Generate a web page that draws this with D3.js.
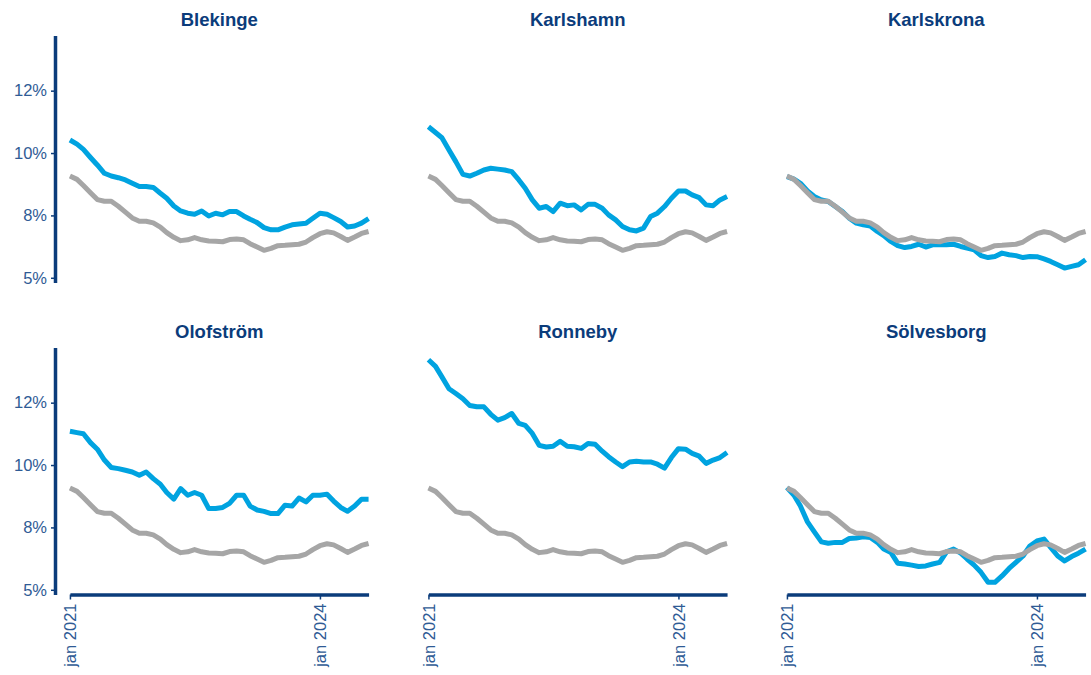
<!DOCTYPE html>
<html>
<head>
<meta charset="utf-8">
<script src="https://cdn.jsdelivr.net/npm/d3@7"></script>
<style>
  html, body { margin: 0; padding: 0; background: #ffffff; }
  svg { display: block; font-family: "Liberation Sans", Arial, sans-serif; }
</style>
</head>
<body>
<svg id="chart" width="1091" height="675"></svg>
<script>
// ---- DATA (monthly, jan 2021 .. aug 2024) ----
const startYear = 2021, nMonths = 44;
const regions = ["Blekinge", "Karlshamn", "Karlskrona", "Olofström", "Ronneby", "Sölvesborg"];
const riket = [9.17,9.05,8.83,8.57,8.32,8.26,8.26,8.08,7.87,7.66,7.54,7.54,7.48,7.33,7.13,6.96,6.84,6.87,6.95,6.87,6.83,6.82,6.80,6.88,6.90,6.87,6.73,6.61,6.49,6.56,6.66,6.67,6.69,6.71,6.79,6.95,7.09,7.16,7.12,6.99,6.85,6.97,7.10,7.17];
const blekinge = [10.47,10.32,10.13,9.84,9.57,9.27,9.17,9.11,9.03,8.91,8.79,8.79,8.76,8.55,8.37,8.09,7.91,7.83,7.79,7.91,7.73,7.83,7.77,7.89,7.89,7.73,7.61,7.49,7.31,7.23,7.23,7.33,7.41,7.44,7.47,7.65,7.83,7.79,7.67,7.53,7.33,7.37,7.47,7.63];
const karlshamn = [10.95,10.74,10.55,10.11,9.69,9.23,9.17,9.27,9.39,9.45,9.42,9.39,9.33,9.03,8.73,8.31,8.01,8.07,7.89,8.19,8.10,8.13,7.95,8.15,8.15,8.01,7.77,7.59,7.35,7.23,7.19,7.29,7.71,7.83,8.07,8.37,8.63,8.63,8.49,8.39,8.13,8.10,8.31,8.43];
const karlskrona = [9.15,9.06,8.91,8.63,8.43,8.31,8.25,8.07,7.89,7.65,7.47,7.41,7.37,7.17,7.02,6.81,6.66,6.59,6.63,6.71,6.61,6.69,6.69,6.69,6.71,6.63,6.57,6.51,6.30,6.23,6.27,6.39,6.33,6.30,6.23,6.27,6.26,6.18,6.09,5.97,5.85,5.91,5.97,6.15];
const olofstrom = [11.22,11.17,11.13,10.81,10.57,10.18,9.91,9.87,9.81,9.75,9.63,9.75,9.51,9.31,9.01,8.77,9.15,8.91,9.01,8.91,8.43,8.43,8.47,8.62,8.91,8.91,8.52,8.38,8.33,8.25,8.25,8.55,8.52,8.81,8.67,8.91,8.91,8.95,8.70,8.47,8.33,8.52,8.77,8.77];
const ronneby = [13.80,13.56,13.18,12.75,12.58,12.39,12.15,12.10,12.10,11.83,11.62,11.71,11.86,11.50,11.43,11.14,10.71,10.65,10.68,10.86,10.68,10.66,10.60,10.78,10.75,10.50,10.30,10.11,9.94,10.11,10.14,10.11,10.11,10.03,9.89,10.27,10.59,10.57,10.42,10.32,10.06,10.18,10.27,10.45];
const solvesborg = [9.19,8.91,8.52,7.95,7.59,7.23,7.18,7.21,7.21,7.35,7.37,7.41,7.39,7.21,6.97,6.85,6.46,6.43,6.39,6.34,6.36,6.43,6.49,6.87,6.97,6.82,6.61,6.39,6.13,5.77,5.77,6.00,6.27,6.49,6.72,7.08,7.26,7.33,7.03,6.72,6.54,6.70,6.82,6.97];
const regionSeries = [blekinge, karlshamn, karlskrona, olofstrom, ronneby, solvesborg];
const yTickValues = [5.5, 7.75, 10, 12.25];
const yTickLabels = ["5%", "8%", "10%", "12%"];
const xTickDates = [new Date(2021, 0, 1), new Date(2024, 0, 1)];
const xTickLabels = ["jan 2021", "jan 2024"];
const yDomain = [5.33, 14.24];

// ---- LAYOUT ----
const colLeft = [55, 413.5, 772];
const rowTop = [35.5, 347.5];
const pw = 328.5, ph = 247;
const navy = "#0b3c7b", tickCol = "#2f5b95", blue = "#00a3e0", grey = "#a6a6a6";

const dates = d3.range(nMonths).map(i => new Date(startYear, i, 1));
const pad = pw * 0.05 / 1.1;
const x = d3.scaleTime().domain([dates[0], dates[nMonths - 1]]).range([pad, pw - pad]);
const y = d3.scaleLinear().domain(yDomain).range([ph, 0]);
const line = d3.line().x((d, i) => x(dates[i])).y(d => y(d)).curve(d3.curveLinear);

const svg = d3.select("#chart");

regions.forEach((name, k) => {
  const r = Math.floor(k / 3), c = k % 3;
  const g = svg.append("g").attr("transform", `translate(${colLeft[c]},${rowTop[r]})`);

  g.append("text")
    .attr("x", pw / 2).attr("y", -10)
    .attr("text-anchor", "middle")
    .attr("font-size", "18.5px").attr("font-weight", "bold")
    .attr("fill", navy)
    .text(name);

  g.append("path").datum(regionSeries[k])
    .attr("d", line).attr("fill", "none")
    .attr("stroke", blue).attr("stroke-width", 5)
    .attr("stroke-linejoin", "round").attr("stroke-linecap", "butt");
  g.append("path").datum(riket)
    .attr("d", line).attr("fill", "none")
    .attr("stroke", grey).attr("stroke-width", 5)
    .attr("stroke-linejoin", "round").attr("stroke-linecap", "butt");

  if (c === 0) {
    const ya = g.append("g").call(
      d3.axisLeft(y).tickValues(yTickValues)
        .tickFormat((d, i) => yTickLabels[i]).tickSize(4).tickSizeOuter(0).tickPadding(4));
    ya.select(".domain").attr("stroke", navy).attr("stroke-width", 3.5);
    ya.selectAll(".tick line").attr("stroke", navy).attr("stroke-width", 1.5);
    ya.selectAll(".tick text").attr("fill", tickCol).attr("font-size", "16.5px")
      .attr("font-family", "Liberation Sans, Arial, sans-serif");
  }
  if (r === 1) {
    const xa = g.append("g").attr("transform", `translate(0,${ph})`).call(
      d3.axisBottom(x).tickValues(xTickDates)
        .tickFormat((d, i) => xTickLabels[i]).tickSize(5).tickSizeOuter(0));
    xa.select(".domain").attr("stroke", navy).attr("stroke-width", 3.5);
    xa.selectAll(".tick line").attr("stroke", navy).attr("stroke-width", 1.5);
    xa.selectAll(".tick text")
      .attr("fill", tickCol).attr("font-size", "16.5px")
      .attr("font-family", "Liberation Sans, Arial, sans-serif")
      .attr("text-anchor", "end")
      .attr("transform", "rotate(-90)")
      .attr("x", -9).attr("y", 0).attr("dy", "0.35em");
  }
});
</script>
</body>
</html>
